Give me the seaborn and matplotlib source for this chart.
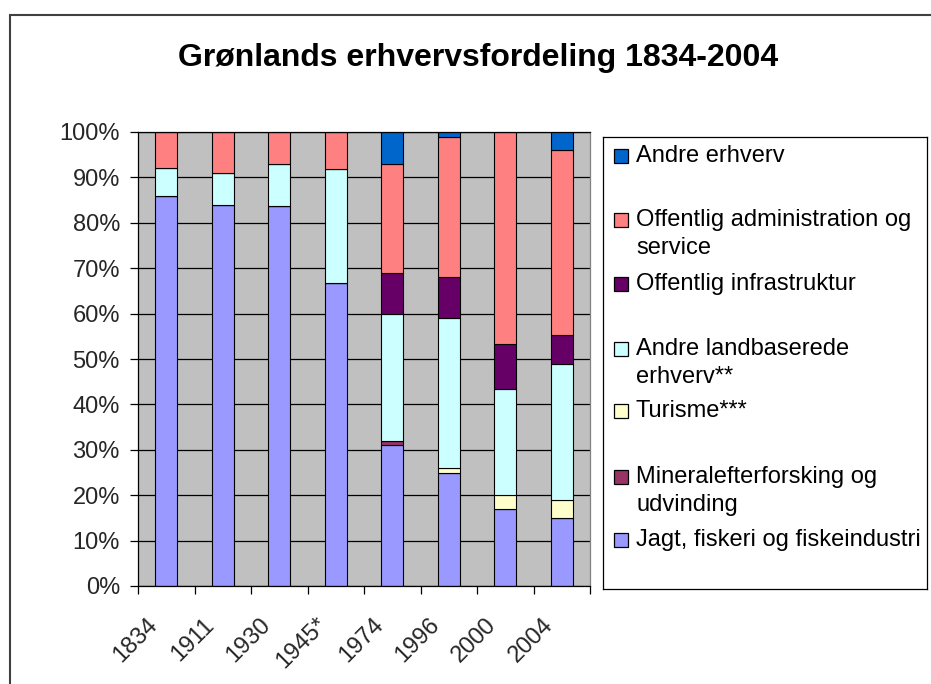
import numpy as np
import pandas as pd
import matplotlib
matplotlib.use("Agg")
import matplotlib.pyplot as plt
import matplotlib.transforms as mtransforms
from matplotlib.patches import Rectangle
import seaborn as sns

# ---- data (percent shares) ----
years = ["1834", "1911", "1930", "1945*", "1974", "1996", "2000", "2004"]
jagt = [86, 84, 83.6, 66.7, 31, 25, 17, 15]
mineral = [0, 0, 0, 0, 1, 0, 0, 0]
turisme = [0, 0, 0, 0, 0, 1, 3, 4]
andre_land = [6, 7, 9.4, 25.2, 28, 33, 23.4, 29.8]
off_infra = [0, 0, 0, 0, 9, 9, 10, 6.4]
off_adm = [8, 9, 7, 8.1, 24, 31, 46.6, 40.8]
andre = [0, 0, 0, 0, 7, 1, 0, 4]

series_names = [
    "Jagt, fiskeri og fiskeindustri",
    "Mineralefterforsking og\nudvinding",
    "Turisme***",
    "Andre landbaserede\nerhverv**",
    "Offentlig infrastruktur",
    "Offentlig administration og\nservice",
    "Andre erhverv",
]
series_values = [jagt, mineral, turisme, andre_land, off_infra, off_adm, andre]
series_colors = ["#9999FF", "#993366", "#FFFFCC", "#CCFFFF", "#660066", "#FF8080", "#0066CC"]
title = "Grønlands erhvervsfordeling 1834-2004"
yticks = list(range(0, 101, 10))

sns.set_theme(style="white")
plt.rcParams["font.family"] = ["Liberation Sans", "DejaVu Sans"]

W, H = 931, 684
fig = plt.figure(figsize=(W / 100, H / 100), dpi=100)
fig.patch.set_facecolor("white")

def fx(px):
    return px / W

def fy(py):
    return 1 - py / H

# plot area
L, R, T, B = 138, 590, 132, 586
ax = fig.add_axes([fx(L), fy(B), (R - L) / W, (B - T) / H])
ax.set_facecolor("#C0C0C0")

bottom = np.zeros(len(years))
for name, vals, col in zip(series_names, series_values, series_colors):
    df = pd.DataFrame({"year": years, "val": vals})
    sns.barplot(data=df, x="year", y="val", order=years, color=col, saturation=1,
                width=0.39, bottom=bottom.copy(), edgecolor="black", linewidth=0.8,
                errorbar=None, ax=ax)
    bottom += np.array(vals, dtype=float)

ax.set_xlim(-0.5, len(years) - 0.5)
ax.set_ylim(0, 100)
ax.set_xlabel("")
ax.set_ylabel("")
ax.set_axisbelow(True)
ax.yaxis.grid(True, color="black", linewidth=0.9)
ax.xaxis.grid(False)

ax.set_yticks(yticks)
ax.set_yticklabels([f"{v}%" for v in yticks], fontsize=17)
ax.tick_params(axis="y", which="major", direction="out", length=6, width=0.9,
               color="black", pad=7, left=True)

# category boundaries as major ticks, labels on minor ticks at centers
ax.set_xticks(np.arange(-0.5, len(years), 1.0))
ax.set_xticklabels([])
ax.set_xticks(np.arange(len(years)), minor=True)
ax.set_xticklabels(years, minor=True, rotation=45, ha="right",
                   rotation_mode="anchor", fontsize=17)
ax.tick_params(axis="x", which="major", direction="out", length=6, width=0.9,
               color="black", bottom=True)
ax.tick_params(axis="x", which="minor", length=0, pad=20)
offset = mtransforms.ScaledTranslation(-0.20, 0, fig.dpi_scale_trans)
for lab in ax.get_xticklabels(minor=True):
    lab.set_transform(lab.get_transform() + offset)

for side in ["left", "bottom", "top"]:
    ax.spines[side].set_color("black")
    ax.spines[side].set_linewidth(0.9)
ax.spines["right"].set_color("#808080")
ax.spines["right"].set_linewidth(0.9)

# title
fig.text(fx(478), fy(58), title, ha="center", va="center", fontsize=23,
         fontweight="bold", color="black")

# legend (manual, Excel-like spacing)
LL, LR, LT, LB = 603, 927, 137, 589
lax = fig.add_axes([fx(LL), fy(LB), (LR - LL) / W, (LB - LT) / H])
lax.set_xlim(0, LR - LL)
lax.set_ylim(LB - LT, 0)
lax.set_xticks([])
lax.set_yticks([])
lax.set_facecolor("white")
for s in lax.spines.values():
    s.set_color("black")
    s.set_linewidth(0.9)
first_line_y = [155.7, 220, 284, 349, 411, 477, 540]
for i, (name, col) in enumerate(zip(series_names[::-1], series_colors[::-1])):
    yc = first_line_y[i] - LT
    lax.add_patch(Rectangle((614 - LL, yc - 7), 14, 14, facecolor=col,
                            edgecolor="black", linewidth=0.9))
    for k, line in enumerate(name.split("\n")):
        lax.text(636 - LL, yc + 28 * k, line, ha="left", va="center",
                 fontsize=17, color="black")

# outer chart border (cropped on right and bottom)
fig.add_artist(Rectangle((fx(10), -0.1), 1.2, fy(15) + 0.1,
                         transform=fig.transFigure, fill=False,
                         edgecolor="#404040", linewidth=1.5))

fig.savefig("out.png", dpi=100)
